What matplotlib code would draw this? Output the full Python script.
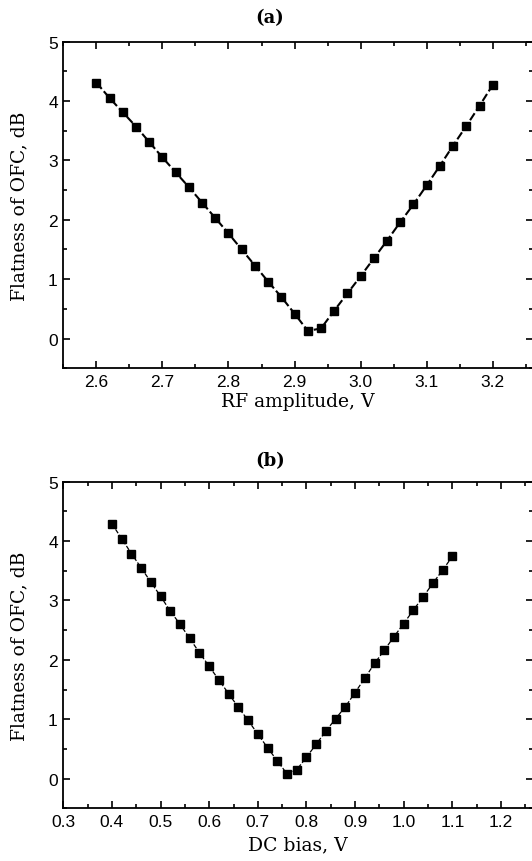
import matplotlib
matplotlib.use("Agg")
import matplotlib.pyplot as plt
from matplotlib.ticker import MultipleLocator

# (a) RF amplitude sweep
rf_amp = [2.60, 2.62, 2.64, 2.66, 2.68, 2.70, 2.72, 2.74, 2.76, 2.78, 2.80,
          2.82, 2.84, 2.86, 2.88, 2.90, 2.92, 2.94, 2.96, 2.98, 3.00, 3.02,
          3.04, 3.06, 3.08, 3.10, 3.12, 3.14, 3.16, 3.18, 3.20]
flat_a = [4.31, 4.05, 3.81, 3.57, 3.31, 3.05, 2.80, 2.55, 2.29, 2.03, 1.77,
          1.50, 1.23, 0.96, 0.70, 0.42, 0.13, 0.17, 0.47, 0.76, 1.05, 1.35,
          1.65, 1.96, 2.26, 2.58, 2.91, 3.25, 3.58, 3.92, 4.27]

# (b) DC bias sweep
dc_bias = [0.40, 0.42, 0.44, 0.46, 0.48, 0.50, 0.52, 0.54, 0.56, 0.58, 0.60,
           0.62, 0.64, 0.66, 0.68, 0.70, 0.72, 0.74, 0.76, 0.78, 0.80, 0.82,
           0.84, 0.86, 0.88, 0.90, 0.92, 0.94, 0.96, 0.98, 1.00, 1.02, 1.04,
           1.06, 1.08, 1.10]
flat_b = [4.29, 4.04, 3.79, 3.55, 3.31, 3.07, 2.82, 2.60, 2.36, 2.12, 1.89,
          1.66, 1.43, 1.20, 0.98, 0.75, 0.52, 0.30, 0.08, 0.15, 0.36, 0.58,
          0.80, 1.01, 1.21, 1.45, 1.69, 1.94, 2.16, 2.39, 2.61, 2.84, 3.06,
          3.29, 3.51, 3.74]

xt_a = ["2.6", "2.7", "2.8", "2.9", "3.0", "3.1", "3.2"]
xt_b = ["0.3", "0.4", "0.5", "0.6", "0.7", "0.8", "0.9", "1.0", "1.1", "1.2"]

serif = ["DejaVu Serif"]
tickfont = "Liberation Sans"

fig = plt.figure(figsize=(5.32, 8.62), dpi=100)
ax1 = fig.add_axes([0.119, 0.5716, 0.883, 0.379])
ax2 = fig.add_axes([0.119, 0.0611, 0.883, 0.379])


def style(ax):
    ax.set_ylim(-0.5, 5)
    ax.xaxis.set_minor_locator(MultipleLocator(0.05))
    ax.yaxis.set_major_locator(MultipleLocator(1))
    ax.yaxis.set_minor_locator(MultipleLocator(0.5))
    ax.tick_params(which="both", direction="in", top=True, right=True,
                   width=1.2, labelsize=12.5, pad=4)
    ax.tick_params(which="major", length=5)
    ax.tick_params(which="minor", length=3)
    for lab in ax.get_yticklabels():
        lab.set_fontfamily(tickfont)
    for s in ax.spines.values():
        s.set_linewidth(1.3)
    ax.set_ylabel("Flatness of OFC, dB", family=serif, fontsize=13.5,
                  labelpad=14)


ax1.plot(rf_amp, flat_a, "k--", lw=1.5, dashes=(4, 1.5), marker="s", ms=5.5,
         mfc="k", mec="k")
ax1.set_xlim(2.55, 3.261)
ax1.set_xticks([float(t) for t in xt_a])
ax1.set_xticklabels(xt_a, family=tickfont)
style(ax1)
ax1.set_xlabel("RF amplitude, V", family=serif, fontsize=13.5, labelpad=2)
ax1.set_title("(a)", family=serif, fontsize=13, fontweight="bold", pad=14,
              x=0.44)

ax2.plot(dc_bias, flat_b, "k--", lw=0.9, marker="s", ms=5.5, mfc="k", mec="k")
ax2.set_xlim(0.3, 1.266)
ax2.set_xticks([float(t) for t in xt_b])
ax2.set_xticklabels(xt_b, family=tickfont)
style(ax2)
ax2.set_xlabel("DC bias, V", family=serif, fontsize=13.5, labelpad=5)
ax2.set_title("(b)", family=serif, fontsize=13, fontweight="bold", pad=12,
              x=0.44)

fig.savefig("out.png", dpi=100)
